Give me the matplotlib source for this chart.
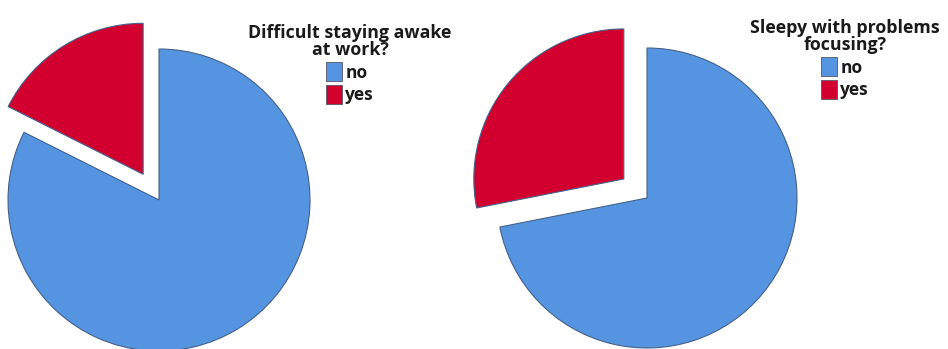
import matplotlib
matplotlib.use("Agg")
import matplotlib.pyplot as plt
from matplotlib.patches import Patch

plt.rcParams["font.family"] = ["Open Sans", "DejaVu Sans"]

answers = ["no", "yes"]
awake_pct = [82.4, 17.6]
focus_pct = [71.9, 28.1]
titles = ["Difficult staying awake\nat work?", "Sleepy with problems\nfocusing?"]

colors = ["#5594E1", "#D1002E"]
W, H = 948, 349


def draw_pie(values, title, cx, cy, r, leg_x, leg_y):
    # square axes in pixel units, data range -1.4..1.4
    a = 1.4
    side = 2 * a * r
    ax = fig.add_axes([(cx - side / 2) / W, (H - cy - side / 2) / H, side / W, side / H])
    ax.pie(values, colors=colors, startangle=90, counterclock=False,
           explode=(0, 0.2), radius=1,
           wedgeprops=dict(edgecolor="#44618A", linewidth=0.8))
    ax.set_xlim(-a, a)
    ax.set_ylim(-a, a)
    ax.set_aspect("equal")
    ax.axis("off")

    handles = [Patch(facecolor=c, edgecolor="#555566", linewidth=0.6) for c in colors]
    leg = fig.legend(handles, answers, title=title, loc="upper center",
                     bbox_to_anchor=(leg_x / W, 1 - leg_y / H), frameon=False,
                     handlelength=0.9, handleheight=1.3, handletextpad=0.2,
                     labelspacing=0.2, borderpad=0, alignment="center",
                     prop=dict(size=12.5, weight="bold"),
                     title_fontproperties=dict(size=12.8, weight="bold"))
    leg.get_title().set_multialignment("center")
    leg.get_title().set_linespacing(0.95)
    leg.get_title().set_color("#1A1A1A")
    for t in leg.get_texts():
        t.set_color("#1A1A1A")


fig = plt.figure(figsize=(W / 100, H / 100), dpi=100)
draw_pie(awake_pct, titles[0], 159, 200, 151, 350, 15)
draw_pie(focus_pct, titles[1], 647, 198, 150, 845, 10)
fig.savefig("out.png", dpi=100)
